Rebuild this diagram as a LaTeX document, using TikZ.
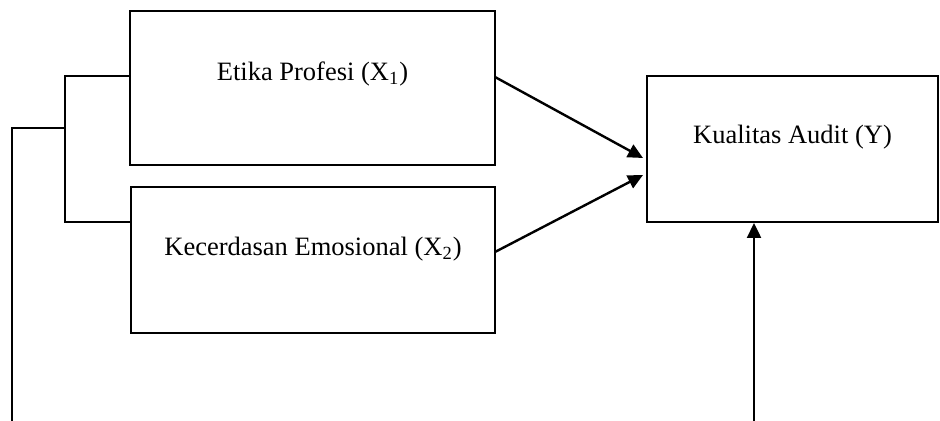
\documentclass[tikz,border=0pt]{standalone}
\usepackage{fontspec}
\setmainfont{Liberation Serif}
\usetikzlibrary{arrows.meta,calc}
\tikzset{every picture/.append style={x=0.5pt,y=-0.5pt}}
\tikzset{varbox/.style={draw, line width=1pt, inner sep=0pt, font=\fontsize{13.25}{16}\selectfont}}
\tikzset{link/.style={line width=1pt}}
\tikzset{effect/.style={-{Triangle[length=7.5pt,width=7pt]}, line width=1.2pt}}

\begin{document}
\begin{tikzpicture}
\useasboundingbox (0,0) rectangle (940,421);

\node (x1) at (312.5,88)[varbox, minimum width=182.5pt, minimum height=77pt, text depth=17pt]{Etika Profesi (X\textsubscript{1})};
\node (x2) at (313,260)[varbox, minimum width=182pt, minimum height=73pt, text depth=14pt]{Kecerdasan Emosional (X\textsubscript{2})};
\node (y) at (792.5,149)[varbox, minimum width=145.5pt, minimum height=73pt, text depth=15pt]{Kualitas Audit (Y)};

\coordinate (top) at (65,76);
\coordinate (bot) at (65,222);
\coordinate (mid) at (65,128);
\coordinate (foot) at (12,421);
\coordinate (footy) at (754,421);

\draw[link] (x1.west |- top)--(top)--(bot)--(x2.west |- bot);
\draw[link] (mid) -| (foot);

%now the arrows into Y
\coordinate (s1) at (495,77);
\coordinate (s2) at (495,252);
\coordinate (e1) at (643,158);
\coordinate (e2) at (643,175);
\draw[effect] (s1)--(e1);
\draw[effect] (s2)--(e2);
\draw[effect] (footy)--(y.south -| footy);

\end{tikzpicture}
\end{document}
